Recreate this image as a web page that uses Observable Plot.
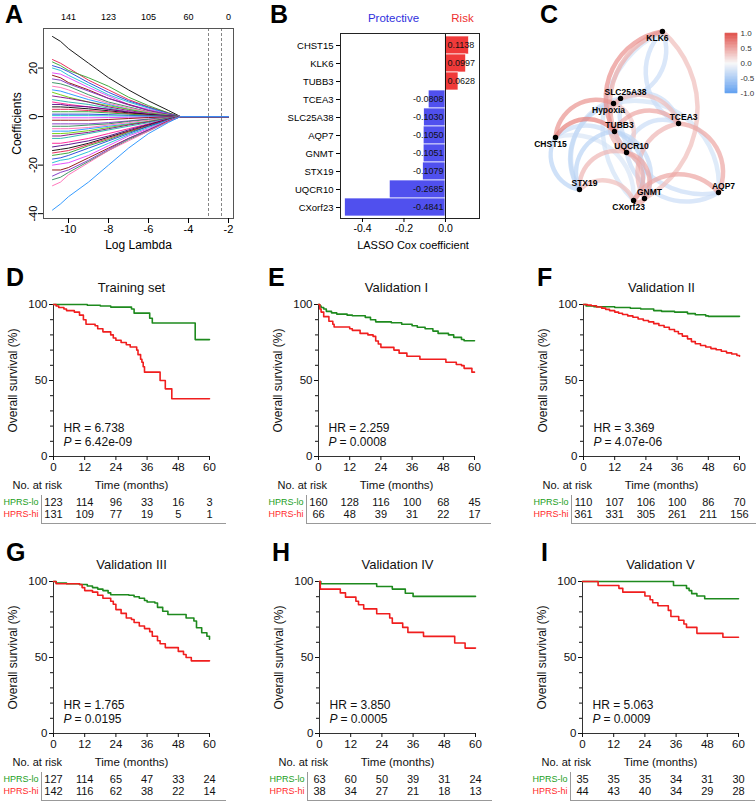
<!DOCTYPE html>
<html><head><meta charset="utf-8">
<script src="https://cdn.jsdelivr.net/npm/d3@7"></script>
<script src="https://cdn.jsdelivr.net/npm/@observablehq/plot@0.6"></script>
<style>
body{margin:0;background:#fff;font-family:"Liberation Sans",Arial,sans-serif;}
#fig{position:relative;width:756px;height:805px;overflow:hidden;background:#fff;}
.letter{position:absolute;font-weight:bold;font-size:25px;line-height:1;color:#000;}
.tbl{position:absolute;border-left:1px solid #999;border-bottom:1px solid #999;}
</style></head><body><div id="fig"></div>
<script>
// ---------------- DATA ----------------
// Panel A: LASSO coefficient paths
const lassoLogLambda = [-10.8, -10.4, -10.0, -9, -8, -7, -6, -5, -4.4, -2];
const lassoPaths = [
  [33, 31, 28, 22, 16, 11, 6.5, 2.5, 0, 0],
  [23.5, 22, 20, 15, 11, 7, 4, 1.5, 0, 0],
  [22.5, 21, 19, 16, 12.5, 8, 4.5, 1.5, 0, 0],
  [21, 20, 18.5, 14, 10, 6.5, 3.8, 1.2, 0, 0],
  [20, 19, 17, 13, 9, 6, 3.5, 1, 0, 0],
  [18, 17.5, 16, 12, 8.5, 5, 3, 1, 0, 0],
  [17, 16, 14, 11, 7.5, 5, 2.5, 0.8, 0, 0],
  [15.5, 15, 13.5, 10.5, 7.5, 4.8, 2.6, 0.8, 0, 0],
  [14, 13.5, 12.5, 9, 6, 4, 2, 0.6, 0, 0],
  [12.5, 12, 11, 8, 5.5, 3.5, 2, 0.5, 0, 0],
  [11, 10.5, 9.5, 7, 5, 3, 1.5, 0.4, 0, 0],
  [10, 9, 8, 6, 4.5, 3, 1.5, 0.5, 0, 0],
  [8.5, 8, 7.5, 6, 4, 2.5, 1.2, 0.3, 0, 0],
  [7, 6.5, 6, 5, 3.5, 2, 1, 0.3, 0, 0],
  [6, 5.5, 5, 4, 3, 2, 1, 0.2, 0, 0],
  [5, 5, 4.5, 4, 3, 1.8, 0.9, 0.2, 0, 0],
  [4, 4, 3.8, 3.2, 2.4, 1.5, 0.8, 0.2, 0, 0],
  [3, 3, 3, 2.5, 2, 1.2, 0.6, 0.1, 0, 0],
  [2, 2, 2, 2, 1.5, 1, 0.5, 0.1, 0, 0],
  [1, 1, 1, 1, 0.8, 0.5, 0.3, 0.1, 0, 0],
  [0.4, 0.4, 0.4, 0.4, 0.3, 0.2, 0.1, 0.05, 0, 0],
  [-0.5, -0.5, -0.5, -0.5, -0.4, -0.3, -0.2, -0.1, 0, 0],
  [-1.5, -1.5, -1.5, -1.5, -1.2, -0.8, -0.4, -0.1, 0, 0],
  [-3, -3, -3, -3, -2.5, -1.8, -1, -0.3, 0, 0],
  [-4, -4, -4, -3.5, -3, -2, -1.2, -0.4, 0, 0],
  [-5, -5, -5, -4.5, -3.5, -2.5, -1.5, -0.5, 0, 0],
  [-6, -6, -6, -5, -4, -3, -2, -0.6, 0, 0],
  [-7, -7, -6.8, -5.8, -4.5, -3.2, -2, -0.6, 0, 0],
  [-8, -8, -7.5, -6.5, -5, -3.5, -2.2, -0.7, 0, 0],
  [-9, -9, -8.5, -7, -5.5, -4, -2.5, -0.8, 0, 0],
  [-11, -11, -10.5, -9, -7, -5, -3, -1, 0, 0],
  [-12.5, -12, -11.5, -10, -8, -5.5, -3.2, -1, 0, 0],
  [-14, -13.5, -13, -11, -8.5, -6, -3.5, -1.2, 0, 0],
  [-15, -14.5, -14, -11.5, -9, -6.2, -3.7, -1.2, 0, 0],
  [-16, -15.5, -15, -12, -9.5, -6.5, -4, -1.3, 0, 0],
  [-17.5, -17, -16, -13, -10, -7, -4, -1.4, 0, 0],
  [-19, -18, -17.5, -14.5, -11, -7.5, -4.5, -1.5, 0, 0],
  [-20, -19.5, -19, -16, -12, -8, -5, -1.6, 0, 0],
  [-22, -22, -21, -17, -13, -9, -5.5, -1.8, 0, 0],
  [-24.5, -23, -22, -18, -13.5, -9, -5.5, -2, 0, 0],
  [-26, -25, -23, -18.5, -14, -9.5, -6, -2, 0, 0],
  [-28.5, -27, -24, -19, -14, -10, -6, -2, 0, 0],
  [-38.5, -36, -33, -27, -20, -13, -7, -2.4, 0, 0]
];
const lassoCutoffs = [-3.0, -2.35];
const dfTickPositions = [-10, -8, -6, -4, -2];
const dfTickLabels = [141, 123, 105, 60, 0];

// Panel B: LASSO Cox coefficients
const genes = ["CHST15", "KLK6", "TUBB3", "TCEA3", "SLC25A38", "AQP7", "GNMT", "STX19", "UQCR10", "CXorf23"];
const coefs = [0.1138, 0.0997, 0.0628, -0.0808, -0.1030, -0.1050, -0.1051, -0.1079, -0.2685, -0.4841];

// Panel C: correlation network (layout coordinates, 0..1)
const netNames = ["KLK6", "SLC25A38", "Hypoxia", "TUBB3", "TCEA3", "CHST15", "UQCR10", "STX19", "GNMT", "CXorf23", "AQP7"];
const netX = [0.656, 0.399, 0.356, 0.362, 0.755, 0.0, 0.436, 0.147, 0.546, 0.479, 1.0];
const netY = [0.0, 0.396, 0.426, 0.592, 0.544, 0.627, 0.716, 0.935, 0.988, 1.0, 0.953];
const edgeFrom = ["TUBB3","UQCR10","CHST15","CHST15","TUBB3","TCEA3","GNMT","CXorf23","STX19","UQCR10","UQCR10","UQCR10","GNMT","Hypoxia","KLK6","STX19",
                  "TCEA3","KLK6","CXorf23","STX19","CHST15","STX19","STX19","TUBB3","SLC25A38","AQP7","TUBB3","AQP7","Hypoxia","UQCR10","STX19","CHST15","Hypoxia"];
const edgeTo   = ["KLK6","KLK6","TUBB3","Hypoxia","TCEA3","AQP7","TCEA3","AQP7","UQCR10","GNMT","CXorf23","SLC25A38","CXorf23","TCEA3","GNMT","CXorf23",
                  "KLK6","SLC25A38","KLK6","CHST15","UQCR10","Hypoxia","TUBB3","CXorf23","TCEA3","SLC25A38","GNMT","UQCR10","AQP7","TCEA3","SLC25A38","CXorf23","UQCR10"];
const edgeR    = [0.62, 0.45, 0.72, 0.6, 0.5, 0.5, 0.4, 0.5, 0.4, 0.5, 0.45, 0.4, 0.5, 0.35, 0.35, 0.35,
                  -0.3, -0.3, -0.25, -0.4, -0.3, -0.35, -0.4, -0.4, -0.3, -0.3, -0.35, -0.3, -0.25, -0.3, -0.3, -0.2, 0.3];

// Panels D–I: Kaplan–Meier curves [time (months), survival %]
const timeTicks = [0, 12, 24, 36, 48, 60];
const dLo = [[0,100],[13,99.5],[18,99],[22,98.3],[30,97],[31,94.3],[37,91],[38,87.8],[54.5,76.9],[60,76.9]];
const dHi = [[0,100],[1,99],[2,98],[4,97],[5,96],[8,95],[10,93],[11.5,90],[12.5,87],[16,86],[17,84],[19,82],[22,80],[23,78],[24,76.5],[26,75],[28,73.5],[29.5,72],[32,70],[32.5,67],[33.5,64],[34,62],[34.5,59],[35,55.5],[41,50],[43,44.5],[45.5,38],[60,38]];
const eLo = [[0,100],[0.5,99],[1,98],[2,97],[3,95.5],[5,94.5],[7,93.7],[11,93],[13,92.6],[18,91.5],[20,90],[22,88.6],[28,88],[32,87],[36,86],[38,85],[41,84],[44,82.5],[46,81],[50,80],[52,78.4],[55,77],[56,76.2],[60,76.2]];
const eHi = [[0,100],[0.5,97],[1,95],[2,92],[4,89],[5.5,87],[6,85.2],[12,84],[13,83],[16,81],[19,80],[21,79],[22,76],[23,74],[24,71.8],[29,70],[31,68],[34,66],[39,64],[49,62],[53,60.5],[55,59.8],[56,58],[59,55.5],[60,55.5]];
const fLo = [[0,100],[1,99],[4,98.5],[12,98],[18,97.5],[22,97],[27,96],[30,95.5],[35,95],[40,94],[43,93.3],[47,92.5],[48,92.2],[60,92.2]];
const fHi = [[0,100],[1.5,99.6],[3,99.2],[5,98.4],[7,97.6],[8.5,96.8],[10,96],[12,95],[13.5,94.2],[15,93.4],[17,92.5],[19,91.6],[21,90.5],[23,89.5],[25,88.6],[27,87.4],[29,86.2],[31,85],[33,83.6],[35,82.2],[36.5,80.8],[38,79.2],[40,77.4],[41.5,75.6],[43,74.2],[45,73],[47,72],[49,71],[51,70.2],[53,69.2],[55,68.2],[57,67.4],[59,66.4],[60,66]];
const gLo = [[0,100],[1,99],[5,98.5],[10,98],[13,97],[15,96],[17,95],[19,94],[21,92.5],[22,91.3],[29,91],[31,90],[33,89],[35,87.5],[36,86.5],[39,85.9],[40,83],[42,80.4],[44,78.3],[51,76],[54,74],[55,69.6],[57,66.3],[59,64],[60,62]];
const gHi = [[0,100],[1,98.5],[10,98],[11,96],[12,94],[15,93],[17,91],[19,89],[22,87],[23,85],[24,81.5],[26,79],[28,76],[30,75],[31,73],[33,70.7],[35,69],[37,67],[38,64],[40,61],[41,59],[43,56.5],[48,54],[50,52],[51,50],[53,47.8],[60,47.8]];
const hLo = [[0,100],[0.5,98.5],[22,96.7],[28,95],[33,92.3],[36,90.2],[60,90.2]];
const hHi = [[0,100],[0.3,95],[8,92.5],[10,89.7],[14,87],[15,84.7],[17,82],[22,78.8],[27,76],[28,72.6],[32,69.8],[34,66.5],[40,63.9],[52,59.5],[56,56.2],[60,56.2]];
const iLo = [[0,100],[35,97.4],[40,95.5],[41,94],[42,92],[44,90.5],[47,88.7],[60,88.7]];
const iHi = [[0,100],[6,97.4],[14,95.5],[15.5,93],[24,90.5],[26,88],[27,86],[29,84],[33,81],[34,77],[37,74.5],[39,72],[40,69.8],[44,65.9],[54,63.3],[60,63.3]];

const kmTitles = ["Training set", "Validation I", "Validation II", "Validation III", "Validation IV", "Validation V"];
const kmHR = ["6.738", "2.259", "3.369", "1.765", "3.850", "5.063"];
const kmP = ["6.42e-09", "0.0008", "4.07e-06", "0.0195", "0.0005", "0.0009"];
const riskLoD = [123,114,96,33,16,3],   riskHiD = [131,109,77,19,5,1];
const riskLoE = [160,128,116,100,68,45], riskHiE = [66,48,39,31,22,17];
const riskLoF = [110,107,106,100,86,70], riskHiF = [361,331,305,261,211,156];
const riskLoG = [127,114,65,47,33,24],  riskHiG = [142,116,62,38,22,14];
const riskLoH = [63,60,50,39,31,24],    riskHiH = [38,34,27,21,18,13];
const riskLoI = [35,35,35,34,31,30],    riskHiI = [44,43,40,34,29,28];

// ---------------- RENDER ----------------
const FONT = '"Liberation Sans", Arial, Helvetica, sans-serif';
const fig = document.getElementById("fig");
function place(el, left, top) {
  el.style.position = "absolute"; el.style.left = left + "px"; el.style.top = top + "px";
  fig.appendChild(el); return el;
}
function letter(t, left, top) {
  const d = document.createElement("div"); d.className = "letter"; d.textContent = t;
  place(d, left, top);
}
const M = "middle";

// Panel A
const lassoPalette = ["#000000","#e6194b","#2ca02c","#1f3fd8","#17becf","#e040fb","#8b0000","#7b2fbf","#2e8b57","#ff69b4","#1e90ff","#66cc00","#800080","#20b2aa","#ff1493","#4b0082"];
const lassoData = lassoPaths.flatMap((vals, i) => vals.map((v, j) => ({id: i, x: lassoLogLambda[j], y: v})));
const plotA = Plot.plot({
  width: 250, height: 252, marginLeft: 43, marginRight: 17, marginTop: 28, marginBottom: 34,
  style: {fontFamily: FONT, fontSize: "11px", color: "#000", background: "transparent"},
  x: {domain: [-11.25, -1.75]}, y: {domain: [-42, 36.3]},
  color: {type: "ordinal", range: lassoPalette},
  marks: [
    Plot.line(lassoData, {x: "x", y: "y", z: "id", stroke: "id", strokeWidth: 0.9}),
    Plot.ruleX(lassoCutoffs, {stroke: "#666", strokeDasharray: "3,2", strokeWidth: 0.8}),
    Plot.frame({stroke: "#555"}),
    Plot.axisX([-10, -8, -6, -4, -2], {tickSize: 5, tickPadding: 2, label: null, fontSize: 11, tickFormat: d => String(d)}),
    Plot.axisX(dfTickPositions, {anchor: "top", tickSize: 0, tickPadding: 9, label: null, fontSize: 9, tickFormat: d => String(dfTickLabels[dfTickPositions.indexOf(d)])}),
    Plot.axisY([-40, -20, 0, 20], {tickSize: 5, tickPadding: 2, tickRotate: -90, label: null, fontSize: 11, tickFormat: d => String(d)}),
    Plot.text(["Log Lambda"], {frameAnchor: "bottom", dy: 27, fontSize: 12, lineAnchor: M, textAnchor: M}),
    Plot.text(["Coefficients"], {frameAnchor: "left", dx: -26, rotate: -90, fontSize: 12, lineAnchor: M, textAnchor: M})
  ]
});
place(plotA, 0, 0);

// Panel B
const coefData = genes.map((g, i) => ({gene: g, value: coefs[i]}));
const posData = coefData.filter(d => d.value > 0), negData = coefData.filter(d => d.value < 0);
const plotB = Plot.plot({
  width: 245, height: 252, marginLeft: 85, marginRight: 21, marginTop: 33, marginBottom: 34,
  style: {fontFamily: FONT, fontSize: "10px", color: "#000", background: "transparent"},
  x: {domain: [-0.506, 0.164]}, y: {domain: genes, padding: 0},
  marks: [
    Plot.barX(coefData, {x: "value", y: "gene", fill: d => d.value > 0 ? "#f03a3a" : "#5050ee", stroke: "white", strokeWidth: 0.7}),
    Plot.ruleX([0], {stroke: "#111"}),
    Plot.frame({stroke: "#222"}),
    Plot.text(posData, {x: 0, y: "gene", text: d => d.value.toFixed(4), textAnchor: "start", dx: 2, fontSize: 9, fill: "#111"}),
    Plot.text(negData, {x: 0, y: "gene", text: d => d.value.toFixed(4), textAnchor: "end", dx: -2, fontSize: 9, fill: "#111"}),
    Plot.axisX([-0.4, -0.2, 0], {tickSize: 4, tickPadding: 2, label: null, fontSize: 10.5, tickFormat: d => d.toFixed(1)}),
    Plot.axisY({tickSize: 4, tickPadding: 3, label: null, fontSize: 9.5}),
    Plot.text(["Protective"], {frameAnchor: "top-left", dx: 53, dy: -15, fontSize: 11.5, fill: "#3030dd", lineAnchor: M, textAnchor: M}),
    Plot.text(["Risk"], {frameAnchor: "top-left", dx: 122, dy: -15, fontSize: 11.5, fill: "#ee3030", lineAnchor: M, textAnchor: M}),
    Plot.text(["LASSO Cox coefficient"], {frameAnchor: "bottom", dy: 27, dx: 3, fontSize: 11, lineAnchor: M, textAnchor: M})
  ]
});
place(plotB, 255, 0);

// Panel C
const corrColor = {type: "linear", domain: [-1, 0, 1], range: ["#5e9ef0", "#f8f8f8", "#e0514b"]};
const nodeData = netNames.map((n, i) => ({name: n, x: netX[i], y: netY[i]}));
const idx = n => netNames.indexOf(n);
const edgeData = edgeFrom.map((f, i) => ({
  x1: netX[idx(f)], y1: netY[idx(f)], x2: netX[idx(edgeTo[i])], y2: netY[idx(edgeTo[i])], r: edgeR[i]
})).sort((a, b) => Math.abs(a.r) - Math.abs(b.r));
const belowLeft = ["KLK6", "Hypoxia", "CHST15", "CXorf23"];
const labelStyle = {x: "x", y: "y", text: "name", fontWeight: "bold", fontSize: 8.5, fill: "#000", lineAnchor: M, textAnchor: M};
const plotC = Plot.plot({
  width: 251, height: 220, marginLeft: 50, marginRight: 38, marginTop: 31, marginBottom: 20,
  style: {fontFamily: FONT, fontSize: "8.5px", color: "#000", background: "transparent", overflow: "visible"},
  x: {domain: [0, 1], axis: null}, y: {domain: [0, 1], reverse: true, axis: null},
  color: corrColor,
  marks: [
    Plot.arrow(edgeData, {x1: "x1", y1: "y1", x2: "x2", y2: "y2", bend: 55, headLength: 0, stroke: "r", strokeWidth: 4.5, strokeOpacity: 0.7}),
    Plot.dot(nodeData, {x: "x", y: "y", r: 2.7, fill: "#000"}),
    Plot.text(nodeData.filter(d => belowLeft.includes(d.name)), {...labelStyle, dx: -5, dy: 7}),
    Plot.text(nodeData.filter(d => !belowLeft.includes(d.name)), {...labelStyle, dx: 5, dy: -6})
  ]
});
place(plotC, 505, 0);

// Colour bar for panel C
const rampStep = 0.02;
const ramp = d3.range(-1, 1, rampStep).map(v => ({y1: v, y2: v + rampStep, v: v + rampStep / 2}));
const plotCbar = Plot.plot({
  width: 41, height: 75, marginLeft: 10, marginRight: 19, marginTop: 7, marginBottom: 8,
  style: {fontFamily: FONT, fontSize: "8px", color: "#333", background: "transparent"},
  x: {domain: [0, 1], axis: null}, y: {domain: [-1, 1]},
  color: corrColor,
  marks: [
    Plot.rect(ramp, {x1: 0, x2: 1, y1: "y1", y2: "y2", fill: "v", stroke: "v", strokeWidth: 0.5}),
    Plot.axisY([-1, -0.5, 0, 0.5, 1], {anchor: "right", tickSize: 0, tickPadding: 3, label: null, fontSize: 8, tickFormat: d => d.toFixed(1)})
  ]
});
place(plotCbar, 715, 26);

// Panels D–I
const kmGreen = "#1e8a1e", kmRed = "#f01e1e";
const yMajor = [0, 50, 100], yMinor = [10, 20, 30, 40, 60, 70, 80, 90];
function kmPanel(k, lo, hi, riskLo, riskHi, ax, py) {
  const ML = 53, MR = 24, MT = 30, MB = 72, W = 156, H = 152;
  const toPts = a => a.map(([t, s]) => ({t, s}));
  const risk = arr => timeTicks.map((t, i) => ({t, n: arr[i]}));
  const p = Plot.plot({
    width: ML + W + MR, height: MT + H + MB, marginLeft: ML, marginRight: MR, marginTop: MT, marginBottom: MB,
    style: {fontFamily: FONT, fontSize: "11.5px", color: "#111", background: "transparent"},
    x: {domain: [0, 60]}, y: {domain: [0, 100]},
    marks: [
      Plot.ruleX([0], {y1: 0, y2: 100, stroke: "#333"}),
      Plot.ruleY([0], {x1: 0, x2: 60, stroke: "#333"}),
      Plot.axisY(yMajor, {tickSize: 4, tickPadding: 2, label: null, fontSize: 11.5, tickFormat: d => String(d)}),
      Plot.axisY(yMinor, {tickSize: 3, label: null, tickFormat: () => ""}),
      Plot.axisX(timeTicks, {tickSize: 4, tickPadding: 2, label: null, fontSize: 11.5, tickFormat: d => String(d)}),
      Plot.line(toPts(lo), {x: "t", y: "s", curve: "step-after", stroke: kmGreen, strokeWidth: 1.6}),
      Plot.line(toPts(hi), {x: "t", y: "s", curve: "step-after", stroke: kmRed, strokeWidth: 1.6}),
      Plot.text([kmTitles[k]], {frameAnchor: "top", dy: -17, fontSize: 13, lineAnchor: M, textAnchor: M}),
      Plot.text(["HR = " + kmHR[k]], {frameAnchor: "bottom-left", dx: 10, dy: -28, textAnchor: "start", lineAnchor: M, fontSize: 12}),
      Plot.text(["P"], {frameAnchor: "bottom-left", dx: 10, dy: -14, textAnchor: "start", lineAnchor: M, fontSize: 12, fontStyle: "italic"}),
      Plot.text(["= " + kmP[k]], {frameAnchor: "bottom-left", dx: 21, dy: -14, textAnchor: "start", lineAnchor: M, fontSize: 12}),
      Plot.text(["Overall survival (%)"], {frameAnchor: "left", dx: -40, rotate: -90, fontSize: 12, lineAnchor: M, textAnchor: M}),
      Plot.text(["No. at risk"], {frameAnchor: "bottom-left", dx: -41, dy: 29, textAnchor: "start", lineAnchor: M, fontSize: 11}),
      Plot.text(["Time (months)"], {frameAnchor: "bottom", dy: 29, fontSize: 11.5, lineAnchor: M, textAnchor: M}),
      Plot.text(risk(riskLo), {x: "t", text: "n", frameAnchor: "bottom", dy: 46, fontSize: 11, lineAnchor: M, textAnchor: M}),
      Plot.text(risk(riskHi), {x: "t", text: "n", frameAnchor: "bottom", dy: 58, fontSize: 11, lineAnchor: M, textAnchor: M}),
      Plot.text(["HPRS-lo"], {frameAnchor: "bottom-left", dx: -15, dy: 46, textAnchor: "end", lineAnchor: M, fontSize: 9, fill: "#22a022"}),
      Plot.text(["HPRS-hi"], {frameAnchor: "bottom-left", dx: -15, dy: 58, textAnchor: "end", lineAnchor: M, fontSize: 9, fill: "#ff2a2a"})
    ]
  });
  place(p, ax - ML, py - MT);
  const t = document.createElement("div"); t.className = "tbl";
  t.style.width = "184px"; t.style.height = "28px";
  place(t, ax - 12, py + H + 39);
}
kmPanel(0, dLo, dHi, riskLoD, riskHiD, 53, 304);
kmPanel(1, eLo, eHi, riskLoE, riskHiE, 318, 304);
kmPanel(2, fLo, fHi, riskLoF, riskHiF, 583, 304);
kmPanel(3, gLo, gHi, riskLoG, riskHiG, 53, 581);
kmPanel(4, hLo, hHi, riskLoH, riskHiH, 319, 581);
kmPanel(5, iLo, iHi, riskLoI, riskHiI, 582, 581);

// Panel letters
letter("A", 5, 2); letter("B", 270, 2); letter("C", 540, 2);
letter("D", 6, 265); letter("E", 268, 265); letter("F", 537, 265);
letter("G", 6, 540); letter("H", 272, 540); letter("I", 541, 540);
</script></body></html>
